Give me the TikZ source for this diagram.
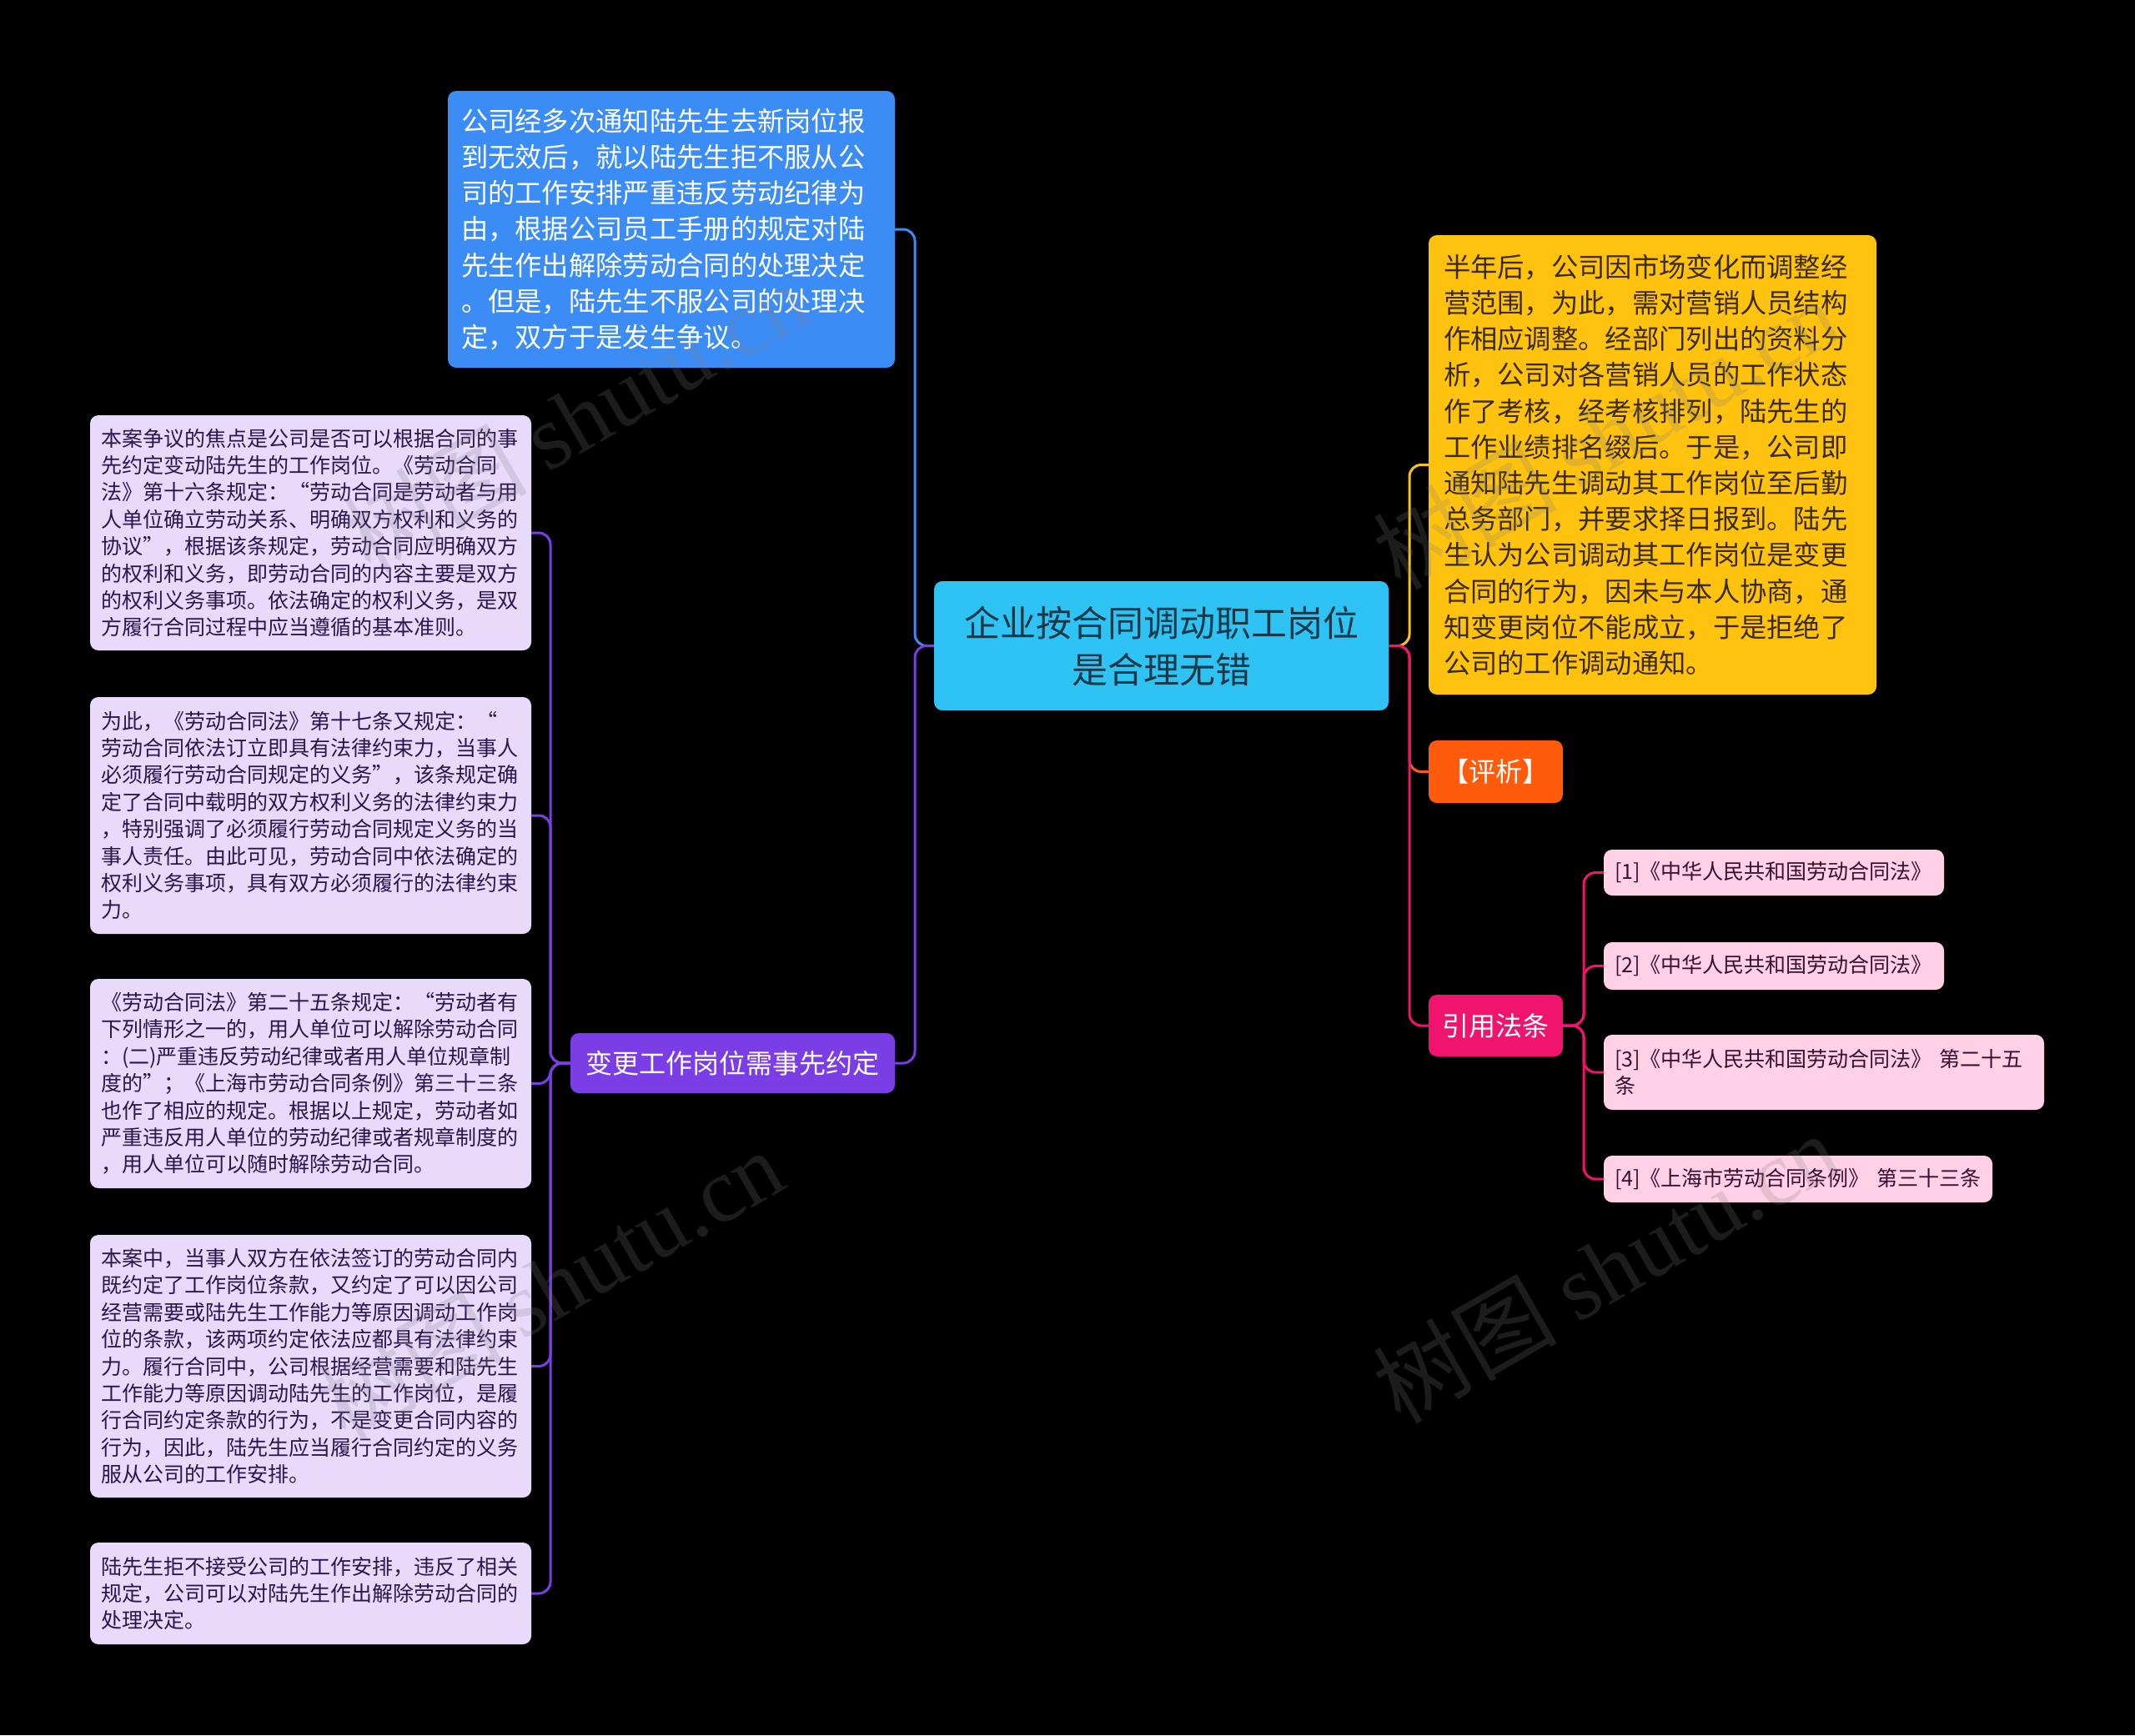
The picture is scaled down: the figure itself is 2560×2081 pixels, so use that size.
\documentclass[tikz,border=0pt]{standalone}
\usepackage{fontspec}
\setmainfont{Noto Sans CJK SC}
\newfontfamily\wmlatin{Liberation Serif}
\newcommand\myfs[2]{\fontsize{#1pt}{#2pt}\selectfont}
\definecolor{cRoot}{HTML}{2EC3F3}
\definecolor{cRootT}{HTML}{17394A}
\definecolor{cBlue}{HTML}{3C8CF6}
\definecolor{cPurple}{HTML}{7B3DE6}
\definecolor{cLeaf}{HTML}{E7DAFA}
\definecolor{cLeafT}{HTML}{2B1650}
\definecolor{cYellow}{HTML}{FFC20F}
\definecolor{cYellowT}{HTML}{3B2C00}
\definecolor{cOrange}{HTML}{FF5B0B}
\definecolor{cPink}{HTML}{F0146E}
\definecolor{cCit}{HTML}{FFD0E6}
\definecolor{cCitT}{HTML}{3A1030}
\tikzset{
  box/.style={rounded corners=10, inner ysep=0pt, inner xsep=#1, align=left},
  box/.default=14,
  conn/.style={line width=3, rounded corners=14},
  leaf/.style={box=13, fill=cLeaf, text=cLeafT, text width=503, minimum width=529, font=\myfs{25}{32.4}},
  cit/.style={box=13, fill=cCit, text=cCitT, font=\myfs{25}{32.6}},
  wm/.style={text=gray, opacity=0.22, rotate=30, font=\myfs{110}{120}}
}
\begin{document}
\begin{tikzpicture}[x=1pt,y=-1pt]
\fill[black] (0,0) rectangle (2560,2081);
\useasboundingbox (0,0) rectangle (2560,2081);

% nodes
\node[box, fill=cRoot, text=cRootT, minimum width=545, minimum height=155, align=center, font=\myfs{43}{56}] (root) at (1392.5,774.5) {企业按合同调动职工岗位\\是合理无错};

\node[box=16, fill=cBlue, text=white, text width=504, minimum width=536, minimum height=332, font=\myfs{32.3}{43.2}] (blue) at (805,275) {公司经多次通知陆先生去新岗位报\\到无效后，就以陆先生拒不服从公\\司的工作安排严重违反劳动纪律为\\由，根据公司员工手册的规定对陆\\先生作出解除劳动合同的处理决定\\。但是，陆先生不服公司的处理决\\定，双方于是发生争议。};

\node[box, fill=cPurple, text=white, minimum width=389, minimum height=72, align=center, font=\myfs{32}{40}] (chg) at (878.5,1275) {变更工作岗位需事先约定};

\node[leaf, minimum height=282] (l1) at (372.5,639) {本案争议的焦点是公司是否可以根据合同的事\\先约定变动陆先生的工作岗位。《劳动合同\\法》第十六条规定：“劳动合同是劳动者与用\\人单位确立劳动关系、明确双方权利和义务的\\协议”，根据该条规定，劳动合同应明确双方\\的权利和义务，即劳动合同的内容主要是双方\\的权利义务事项。依法确定的权利义务，是双\\方履行合同过程中应当遵循的基本准则。};

\node[leaf, minimum height=284] (l2) at (372.5,978) {为此，《劳动合同法》第十七条又规定：“\\劳动合同依法订立即具有法律约束力，当事人\\必须履行劳动合同规定的义务”，该条规定确\\定了合同中载明的双方权利义务的法律约束力\\，特别强调了必须履行劳动合同规定义务的当\\事人责任。由此可见，劳动合同中依法确定的\\权利义务事项，具有双方必须履行的法律约束\\力。};

\node[leaf, minimum height=251] (l3) at (372.5,1299.5) {《劳动合同法》第二十五条规定：“劳动者有\\下列情形之一的，用人单位可以解除劳动合同\\：(二)严重违反劳动纪律或者用人单位规章制\\度的”；《上海市劳动合同条例》第三十三条\\也作了相应的规定。根据以上规定，劳动者如\\严重违反用人单位的劳动纪律或者规章制度的\\，用人单位可以随时解除劳动合同。};

\node[leaf, minimum height=315] (l4) at (372.5,1638.5) {本案中，当事人双方在依法签订的劳动合同内\\既约定了工作岗位条款，又约定了可以因公司\\经营需要或陆先生工作能力等原因调动工作岗\\位的条款，该两项约定依法应都具有法律约束\\力。履行合同中，公司根据经营需要和陆先生\\工作能力等原因调动陆先生的工作岗位，是履\\行合同约定条款的行为，不是变更合同内容的\\行为，因此，陆先生应当履行合同约定的义务\\服从公司的工作安排。};

\node[leaf, minimum height=122] (l5) at (372.5,1911) {陆先生拒不接受公司的工作安排，违反了相关\\规定，公司可以对陆先生作出解除劳动合同的\\处理决定。};

\node[box=18, fill=cYellow, text=cYellowT, text width=501, minimum width=537, minimum height=551, font=\myfs{32.3}{43.2}] (yel) at (1981.5,557.5) {半年后，公司因市场变化而调整经\\营范围，为此，需对营销人员结构\\作相应调整。经部门列出的资料分\\析，公司对各营销人员的工作状态\\作了考核，经考核排列，陆先生的\\工作业绩排名缀后。于是，公司即\\通知陆先生调动其工作岗位至后勤\\总务部门，并要求择日报到。陆先\\生认为公司调动其工作岗位是变更\\合同的行为，因未与本人协商，通\\知变更岗位不能成立，于是拒绝了\\公司的工作调动通知。};

\node[box, fill=cOrange, text=white, minimum width=161, minimum height=75, align=center, font=\myfs{32}{40}] (pj) at (1793.5,925.5) {【评析】};

\node[box, fill=cPink, text=white, minimum width=161, minimum height=74, align=center, font=\myfs{32}{40}] (yy) at (1793.5,1230) {引用法条};

\node[cit, text width=382, minimum width=408, minimum height=55] (c1) at (2127,1046.5) {[1]《中华人民共和国劳动合同法》};
\node[cit, text width=382, minimum width=408, minimum height=57] (c2) at (2127,1158.5) {[2]《中华人民共和国劳动合同法》};
\node[cit, text width=502, minimum width=528, minimum height=90] (c3) at (2187,1286) {[3]《中华人民共和国劳动合同法》 第二十五\\条};
\node[cit, text width=440, minimum width=466, minimum height=56] (c4) at (2156,1414) {[4]《上海市劳动合同条例》 第三十三条};

% trunk coordinates
\coordinate (tL) at (1097,0);
\coordinate (tR) at (1690,0);
\coordinate (tLeaf) at (660,0);
\coordinate (tCit) at (1899,0);

% connectors
\draw[conn, cBlue] (root.west) -- (tL |- root.west) |- (blue.east);
\draw[conn, cPurple] (root.west) -- (tL |- root.west) |- (chg.east);
\foreach \n in {l1,l2,l3,l4,l5}{
  \draw[conn, cPurple] (chg.west) -- (tLeaf |- chg.west) |- (\n.east);
}
\draw[conn, cYellow] (root.east) -- (tR |- root.east) |- (yel.west);
\draw[conn, cOrange] (root.east) -- (tR |- root.east) |- (pj.west);
\draw[conn, cPink] (root.east) -- (tR |- root.east) |- (yy.west);
\foreach \n in {c1,c2,c3,c4}{
  \draw[conn, cPink] (yy.east) -- (tCit |- yy.east) |- (\n.west);
}

% watermarks
\node[wm] (wm1) at (690,500) {树图 {\wmlatin shutu.cn}};
\node[wm] (wm2) at (1925,520) {树图 {\wmlatin shutu.cn}};
\node[wm] (wm3) at (660,1540) {树图 {\wmlatin shutu.cn}};
\node[wm] (wm4) at (1925,1520) {树图 {\wmlatin shutu.cn}};
\end{tikzpicture}
\end{document}
